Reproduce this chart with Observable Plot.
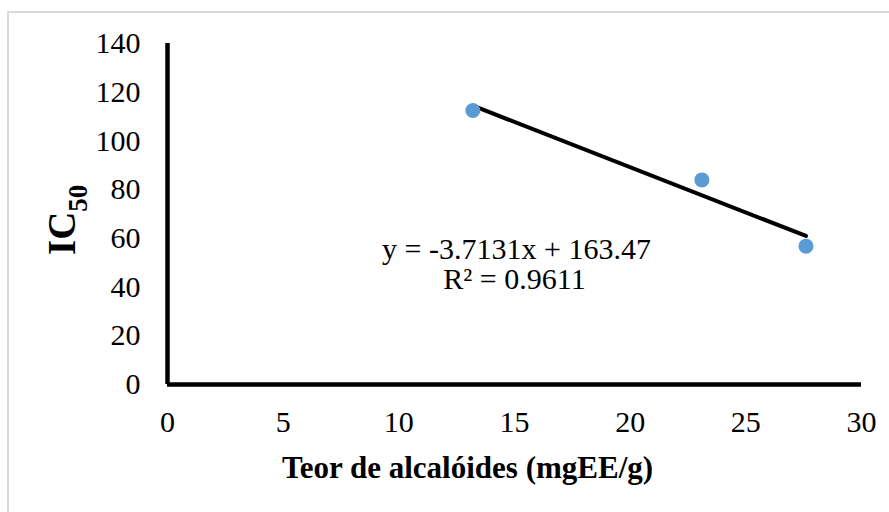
<!DOCTYPE html>
<html>
<head>
<meta charset="utf-8">
<script src="https://cdn.jsdelivr.net/npm/d3@7"></script>
<script src="https://cdn.jsdelivr.net/npm/@observablehq/plot@0.6"></script>
<style>
  html, body { margin: 0; padding: 0; background: #fff; }
  #wrap { position: relative; width: 889px; height: 512px; overflow: hidden; }
  #frame { position: absolute; left: 7px; top: 11px; width: 900px; height: 520px;
           border-left: 2px solid #d9d9d9; border-top: 2px solid #d9d9d9; box-sizing: border-box; }
  #chart { position: absolute; left: 0; top: 0; }
  #chart svg { font-family: "Liberation Serif", "Times New Roman", serif; }
</style>
</head>
<body>
<div id="wrap"><div id="frame"></div><div id="chart"></div></div>
<script>
// Alkaloid content (mgEE/g) against IC50
const alkaloid = [13.2, 23.1, 27.6];
const ic50 = [112.5, 84.0, 56.8];

// Linear trend line reported on the chart
const slope = -3.7131;
const intercept = 163.47;
const rSquared = 0.9611;

const xTicks = [0, 5, 10, 15, 20, 25, 30];
const yTicks = [0, 20, 40, 60, 80, 100, 120, 140];

const points = alkaloid.map((x, i) => ({x, y: ic50[i]}));
const xMin = d3.min(alkaloid), xMax = d3.max(alkaloid);
const trend = [xMin, xMax].map(x => ({x, y: slope * x + intercept}));

const chart = Plot.plot({
  width: 889,
  height: 512,
  marginLeft: 167,
  marginRight: 28,
  marginTop: 43,
  marginBottom: 128,
  style: {fontFamily: "Liberation Serif, Times New Roman, serif", fontSize: "30px", color: "#000", background: "transparent"},
  x: {domain: [0, 30], ticks: xTicks, tickSize: 0, tickPadding: 26, label: null},
  y: {domain: [0, 140], ticks: yTicks, tickSize: 0, tickPadding: 27, label: null},
  marks: [
    Plot.ruleX([0], {stroke: "#000", strokeWidth: 4.5}),
    Plot.ruleY([0], {stroke: "#000", strokeWidth: 4.5}),
    Plot.line(trend, {x: "x", y: "y", stroke: "#000", strokeWidth: 4}),
    Plot.dot(points, {x: "x", y: "y", r: 7.5, fill: "#5B9BD5", stroke: "none"}),
    // Trend line equation and R²
    Plot.text([`y = ${slope}x + ${intercept}`], {frameAnchor: "middle", dx: 2, dy: 35, fontSize: 30, fill: "#000"}),
    Plot.text([`R² = ${rSquared}`], {frameAnchor: "middle", dx: 0, dy: 65, fontSize: 30, fill: "#000"}),
    Plot.text(["Teor de alcalóides (mgEE/g)"], {frameAnchor: "bottom", dx: -47, dy: 93, fontSize: 31, fontWeight: "bold", fill: "#000"})
  ]
});

// Y axis title with subscript
const svg = d3.select(chart);
const yTitle = svg.append("text")
  .attr("transform", "translate(75,255) rotate(-90)")
  .attr("text-anchor", "start")
  .attr("font-weight", "bold")
  .attr("fill", "#000");
yTitle.append("tspan").attr("font-size", 39).text("IC");
yTitle.append("tspan").attr("font-size", 27).attr("dy", 12).text("50");

document.getElementById("chart").appendChild(chart);
</script>
</body>
</html>
